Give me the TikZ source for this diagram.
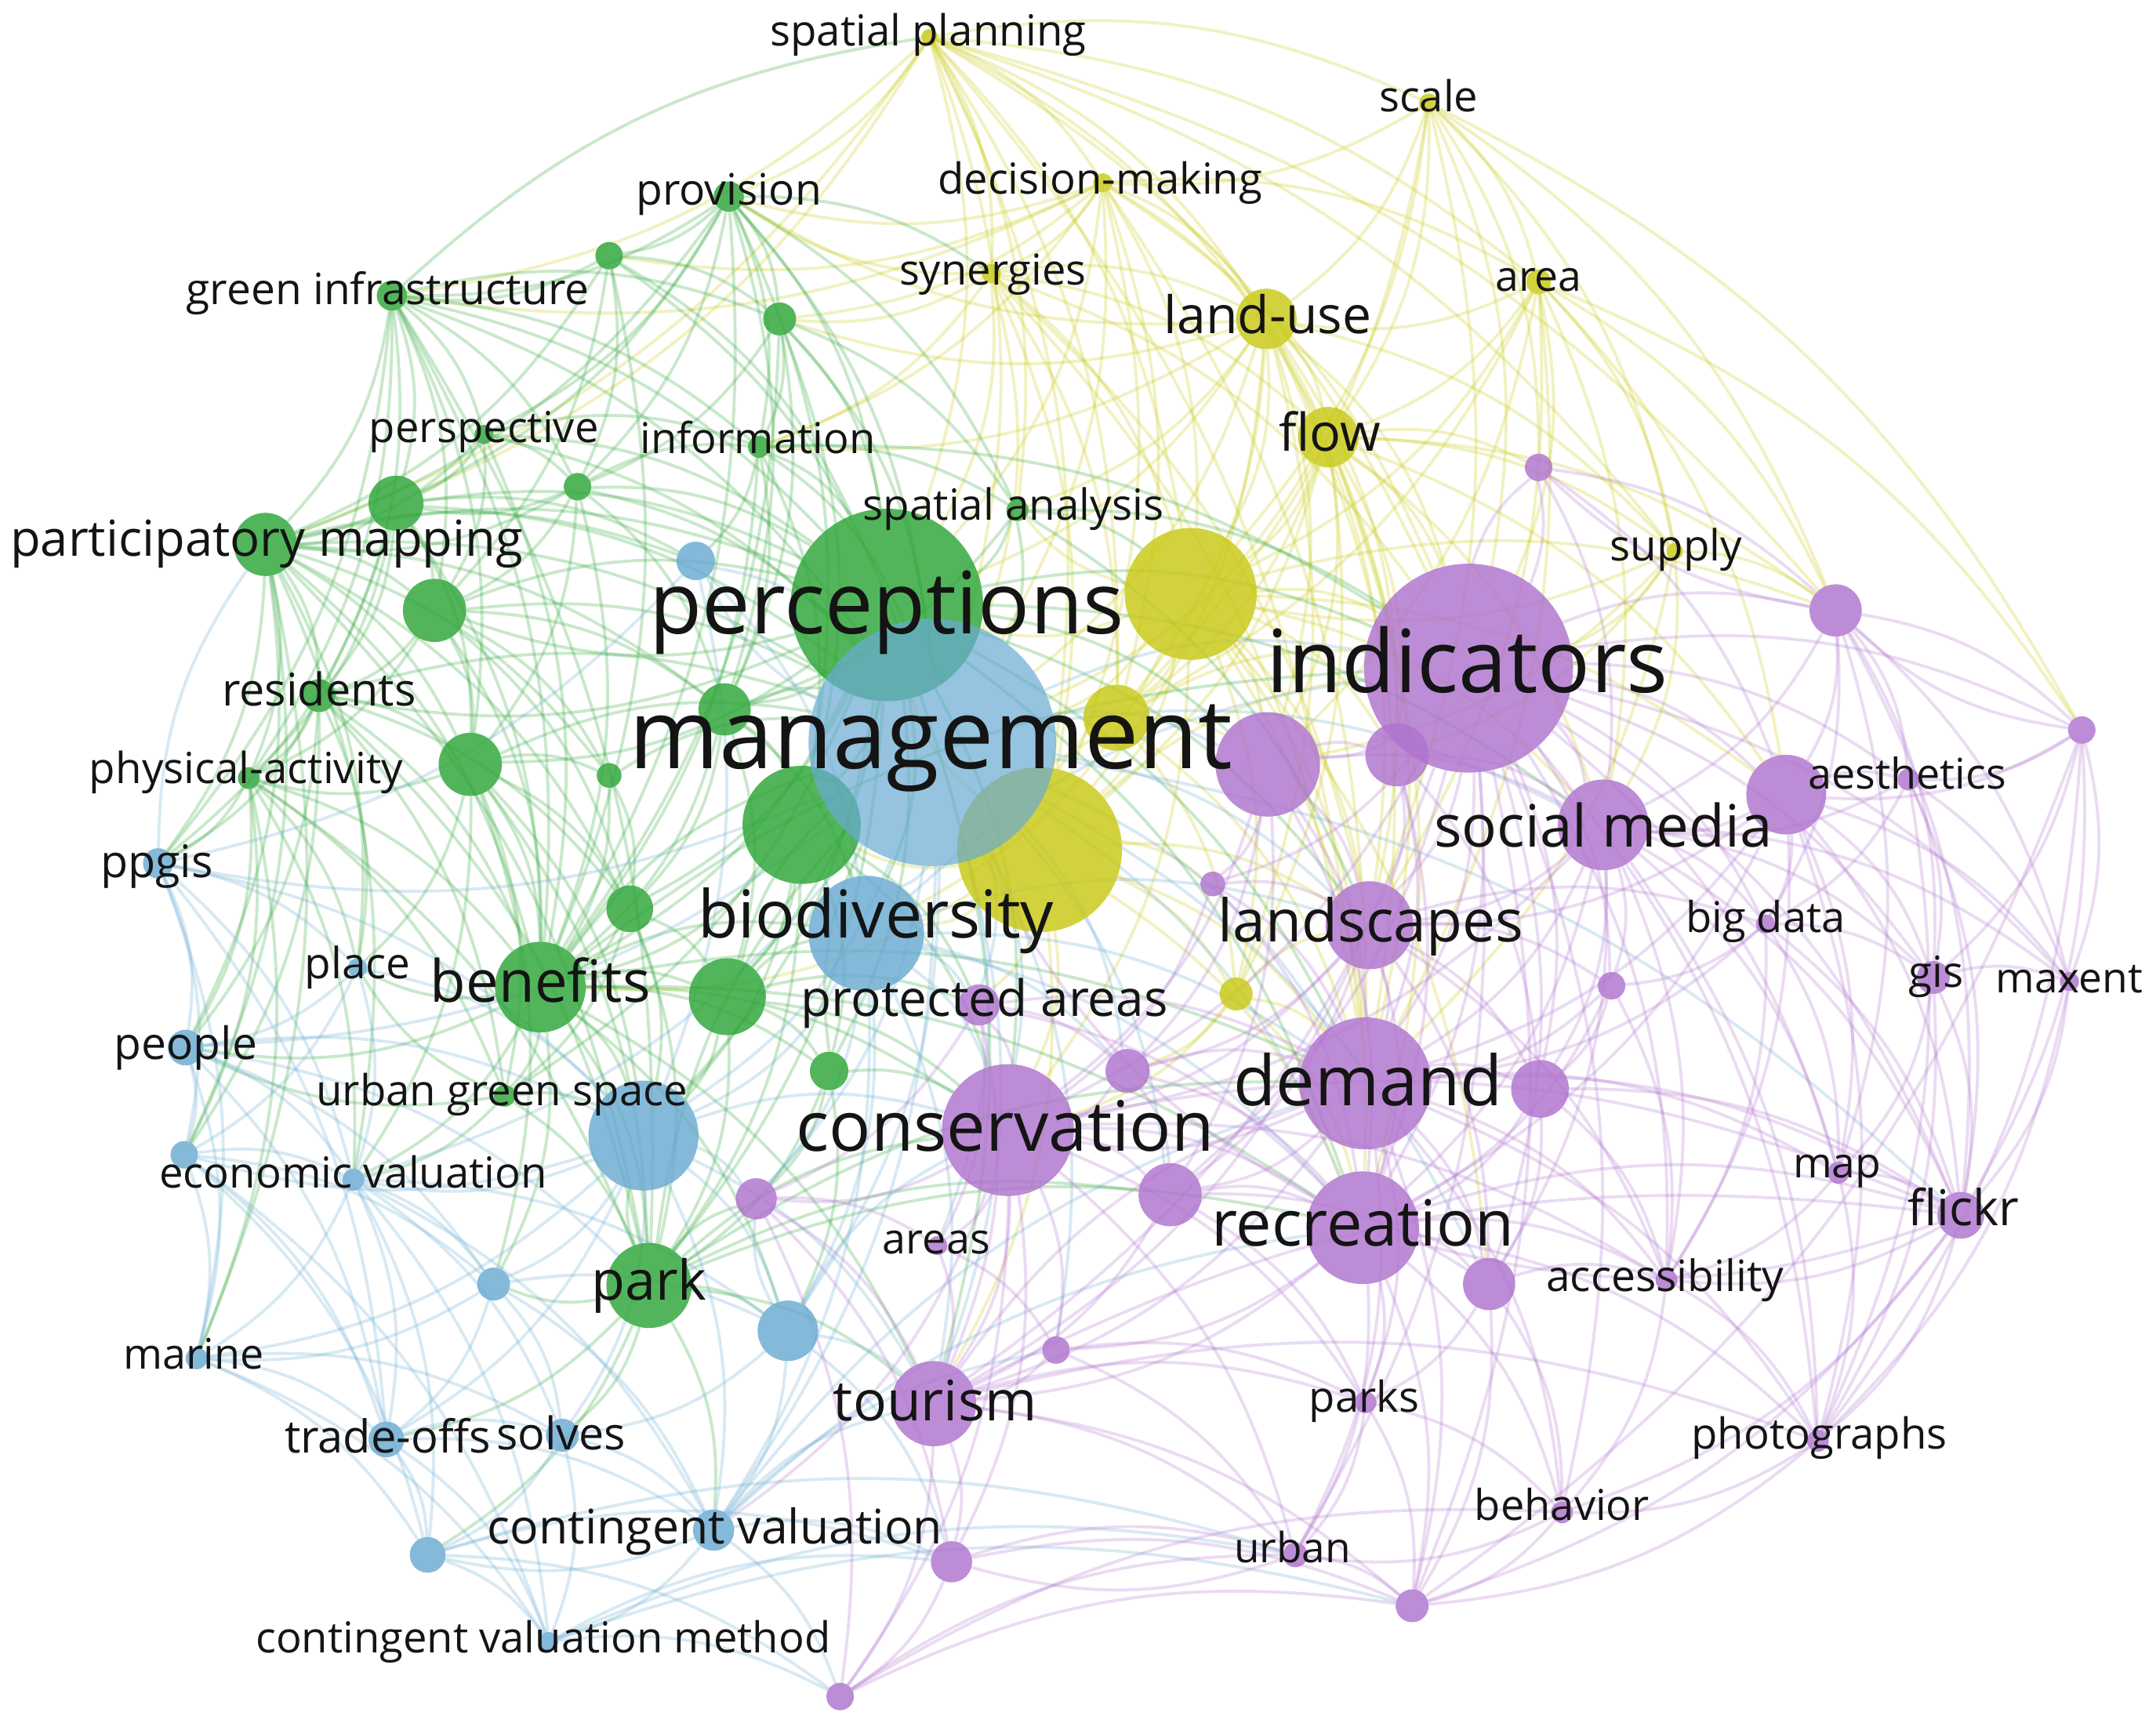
\documentclass[tikz,border=0pt]{standalone}
\usepackage{fontspec}
\setmainfont{Open Sans}
\usepackage{graphicx}
\pgfdeclarelayer{bg}
\pgfsetlayers{bg,main}
\definecolor{cg}{RGB}{45,165,55}
\definecolor{cy}{RGB}{200,200,20}
\definecolor{cb}{RGB}{105,170,210}
\definecolor{cp}{RGB}{175,115,205}
\newlength\pxu
\setlength\pxu{0.02cm}
\newcommand\vn[5]{\node[vn,fill=#4,minimum size={#5*0.04cm}] (#1) at (#2,#3) {};}
\newcommand\vl[4]{\node[vl] (t#1) at (#2) {\resizebox{#3\pxu}{!}{#4\vphantom{hg}}};}
\begin{document}
\begin{tikzpicture}[x=0.02cm,y=-0.02cm,
  vn/.style={circle,inner sep=0pt,outer sep=0pt,draw=none,fill opacity=0.82},
  vl/.style={inner sep=0pt,outer sep=0pt,text=black!92,anchor=center},
  ebase/.style={line width=1.25pt,draw opacity=0.26,bend left=17},
  eg/.style={ebase,draw=cg},
  ey/.style={ebase,draw=cy},
  eb/.style={ebase,draw=cb},
  ep/.style={ebase,draw=cp}]
\useasboundingbox (0,0) rectangle (1568,1258);
% ---------- nodes (circles) ----------
\vn{ybig2}{756}{618}{cy}{60}
\vn{ybig1}{866}{432}{cy}{48}
\vn{g9}{583}{600}{cg}{43}
\vn{percep}{645}{440}{cg}{70}
\vn{ymid}{812}{522}{cy}{24}
\node[vn,fill=cb,fill opacity=0.7,minimum size={90*0.04cm}] (mgmt) at (678,540) {};
\vn{biod}{630}{679}{cb}{42}
\vn{indic}{1068}{486}{cp}{76}
\vn{p1}{922}{556}{cp}{38}
\vn{p2}{1016}{549}{cp}{23}
\vn{conserv}{733}{822}{cp}{48}
\vn{demand}{993}{788}{cp}{48}
\vn{recre}{991}{893}{cp}{41}
\vn{b2}{468}{826}{cb}{40}
\vn{benef}{393}{718}{cg}{33}
\vn{smedia}{1166}{600}{cp}{33}
\vn{land}{996}{673}{cp}{32}
\vn{park}{472}{935}{cg}{31}
\vn{tourism}{679}{1021}{cp}{31}
\vn{p6}{1299}{578}{cp}{29}
\vn{g11}{529}{725}{cg}{28}
\vn{splan}{676}{27}{cy}{6}
\vn{scale}{1039}{75}{cy}{7}
\vn{decis}{802}{133}{cy}{7}
\vn{syner}{721}{199}{cy}{7}
\vn{area}{1119}{205}{cy}{9}
\vn{landuse}{921}{232}{cy}{22}
\vn{flow}{966}{318}{cy}{22}
\vn{supply}{1218}{401}{cy}{6}
\vn{ysmall}{899}{723}{cy}{12}
\vn{prov}{530}{143}{cg}{11}
\vn{g1}{443}{186}{cg}{10}
\vn{ginf}{285}{215}{cg}{11}
\vn{g2}{567}{232}{cg}{12}
\vn{persp}{352}{316}{cg}{7}
\vn{g3}{420}{354}{cg}{10}
\vn{info}{552}{325}{cg}{8}
\vn{span}{740}{371}{cg}{8}
\vn{g4}{288}{366}{cg}{20}
\vn{pmap}{193}{396}{cg}{23}
\vn{g5}{316}{444}{cg}{23}
\vn{resid}{232}{506}{cg}{12}
\vn{g6}{527}{516}{cg}{19}
\vn{g7}{342}{556}{cg}{23}
\vn{phys}{181}{566}{cg}{8}
\vn{g8}{443}{564}{cg}{9}
\vn{g10}{458}{661}{cg}{17}
\vn{g12}{603}{779}{cg}{14}
\vn{ugs}{367}{797}{cg}{8}
\vn{b1}{506}{408}{cb}{14}
\vn{ppgis}{115}{628}{cb}{11}
\vn{place}{260}{704}{cb}{7}
\vn{people}{135}{762}{cb}{13}
\vn{b3}{134}{840}{cb}{10}
\vn{econ}{257}{858}{cb}{8}
\vn{b4}{359}{934}{cb}{12}
\vn{b5}{573}{968}{cb}{22}
\vn{marine}{143}{988}{cb}{8}
\vn{trade}{281}{1047}{cb}{13}
\vn{solves}{409}{1044}{cb}{12}
\vn{cval}{519}{1113}{cb}{15}
\vn{b6}{311}{1131}{cb}{13}
\vn{cvm}{399}{1194}{cb}{7}
\vn{p3}{1335}{444}{cp}{19}
\vn{p4}{1119}{340}{cp}{10}
\vn{p5}{1514}{531}{cp}{10}
\vn{aesth}{1388}{567}{cp}{8}
\vn{p7}{882}{643}{cp}{9}
\vn{bigdata}{1284}{672}{cp}{7}
\vn{p8}{1172}{717}{cp}{10}
\vn{gis}{1406}{711}{cp}{12}
\vn{maxent}{1505}{714}{cp}{7}
\vn{protar}{712}{731}{cp}{15}
\vn{p9}{820}{779}{cp}{16}
\vn{p10}{1120}{792}{cp}{21}
\vn{p11}{851}{869}{cp}{23}
\vn{p12}{550}{872}{cp}{15}
\vn{map}{1337}{853}{cp}{8}
\vn{flickr}{1426}{884}{cp}{17}
\vn{areas}{682}{906}{cp}{7}
\vn{p13}{1083}{934}{cp}{19}
\vn{access}{1212}{931}{cp}{8}
\vn{p14}{768}{982}{cp}{10}
\vn{parks}{993}{1020}{cp}{8}
\vn{photo}{1322}{1048}{cp}{8}
\vn{behav}{1136}{1100}{cp}{8}
\vn{urban}{942}{1131}{cp}{9}
\vn{p15}{692}{1136}{cp}{15}
\vn{p16}{1027}{1168}{cp}{12}
\vn{p17}{611}{1234}{cp}{10}
% ---------- edges ----------
\begin{pgfonlayer}{bg}
\foreach \s/\tl in {
 splan/{decis,syner,landuse,flow,ybig1,ybig2,mgmt,percep,indic,prov,area,scale,ginf,supply,span,ymid,demand,pmap,g4,p3},
 scale/{decis,landuse,area,flow,ybig1,indic,ymid,supply,p4,land,p3,p5},
 decis/{syner,landuse,flow,ybig1,ybig2,mgmt,percep,indic,prov,area,g2,ymid,info,demand,g1,ginf},
 syner/{landuse,flow,ybig1,ybig2,mgmt,percep,indic,ymid,g2,info,demand,land,prov},
 area/{landuse,flow,ybig1,indic,supply,p3,smedia,demand,land,p1,ymid,p6,p5},
 landuse/{flow,ybig1,ybig2,mgmt,percep,indic,ymid,supply,p1,p2,demand,land,span,info,ysmall,g2,prov},
 flow/{ybig1,ybig2,mgmt,indic,ymid,supply,p1,p2,demand,land,recre,ysmall,p4,smedia,p3,p6},
 supply/{indic,ybig1,p3,demand,smedia,p2,p1},
 ybig1/{ybig2,mgmt,percep,indic,ymid,p1,p2,demand,land,recre,conserv,biod,smedia,ysmall,span,p3,p6,p13},
 ybig2/{mgmt,percep,indic,ymid,demand,land,recre,conserv,biod,g9,protar,ysmall,p7,benef,tourism},
 ymid/{mgmt,indic,p1,demand,ysmall},
 ysmall/{land,demand,recre,conserv,p9}}
 {\foreach \t in \tl {\draw[ey] (\s) to (\t);}}
\foreach \s/\tl in {
 prov/{g1,ginf,g2,info,persp,percep,mgmt,g3,g6,pmap,benef,g9,span,syner,g4},
 g1/{ginf,g2,percep,g3,pmap,g5,mgmt,benef},
 ginf/{g2,persp,g3,g4,pmap,g5,resid,g7,percep,mgmt,benef,phys,info,ppgis,park,splan},
 g2/{info,percep,mgmt,g6,g9,benef,g3,span},
 persp/{g3,g4,pmap,percep,mgmt,info,g5,benef},
 g3/{g4,pmap,info,percep,g6,g5,g7,benef,mgmt},
 info/{span,percep,mgmt,g6,g9,benef,b1,indic},
 span/{percep,mgmt,ybig1,indic,g6,land},
 g4/{pmap,g5,percep,mgmt,resid,g7,benef,b1,phys,ppgis},
 pmap/{g5,resid,g7,phys,percep,mgmt,benef,ppgis,g8,g10,b1,g6,park,people,place,b3,econ,marine},
 percep/{g5,g6,g7,g9,g10,benef,g11,mgmt,biod,conserv,indic,park,ugs,g12,b2,resid,recre,demand,p1,land,smedia,tourism},
 g5/{resid,g7,percep,mgmt,benef,g6,g8,g10,phys},
 resid/{g7,phys,benef,mgmt,ppgis,place,park,ugs,g10,people,b3},
 g6/{g9,mgmt,benef,g11,g10,biod},
 g7/{phys,g8,benef,mgmt,g10,park,ugs,b2,place,econ,b4},
 phys/{ppgis,benef,people,place,park,b3,ugs,marine,econ},
 g8/{mgmt,benef,g10},
 g9/{mgmt,biod,benef,g11,conserv,g12,park,b2,protar},
 g10/{benef,g11,park,ugs,b2},
 benef/{g11,ugs,park,mgmt,biod,b2,place,people,econ,b4,conserv,g12,b5,tourism,recre,demand,indic},
 g11/{g12,biod,mgmt,park,b2,conserv,protar},
 g12/{park,mgmt,conserv,b5,p12},
 ugs/{park,b2,econ,place,people},
 park/{b2,b4,b5,solves,cval,trade,tourism,mgmt,conserv,p12,recre,b6,demand,p11}}
 {\foreach \t in \tl {\draw[eg] (\s) to (\t);}}
\foreach \s/\tl in {
 mgmt/{b1,biod,b2,indic,conserv,demand,recre,land,p1,protar,tourism,cval,b5,ppgis,people,econ,p12,smedia,p9,p11,areas,p14,p13,flickr},
 b1/{biod,mgmt,ppgis,b2},
 ppgis/{people,place,b3,econ,marine,b2,trade,pmap},
 biod/{b2,conserv,protar,indic,demand,land,recre,p9,p12,tourism,cval,b5},
 place/{people,b3,econ,b2},
 people/{b3,econ,marine,b2,trade,b4,park},
 b2/{b3,econ,b4,b5,marine,trade,solves,cval,conserv,tourism,p12},
 b3/{econ,marine,trade,b6,b4,cvm},
 econ/{b4,marine,trade,solves,cval,b6,cvm,b5},
 b4/{solves,trade,cval,b5,marine},
 b5/{cval,solves,tourism,p12,p15,conserv},
 marine/{trade,b6,cvm,solves},
 trade/{solves,b6,cval,cvm},
 solves/{cval,b6,cvm},
 cval/{b6,cvm,p15,p17,tourism,p14,recre,demand},
 b6/{cvm,p17,p15,urban},
 cvm/{p17,p15,p16,urban}}
 {\foreach \t in \tl {\draw[eb] (\s) to (\t);}}
\foreach \s/\tl in {
 indic/{p1,p2,p3,p4,p5,p6,smedia,land,demand,recre,conserv,aesth,bigdata,gis,maxent,flickr,p10,p13,access,map,p8,p7,tourism,p11,photo,p16,behav,urban},
 p1/{p2,land,demand,recre,conserv,smedia,p7,p9,p11},
 p2/{land,demand,smedia,recre,p10},
 p3/{p4,p5,p6,aesth,smedia,gis,maxent,flickr,bigdata,map},
 p4/{indic,p3,smedia,p6},
 p5/{aesth,gis,maxent,flickr,p6,photo,p3,p16},
 p6/{aesth,smedia,bigdata,gis,maxent,flickr,map,access,demand,recre,photo,land},
 aesth/{smedia,gis,maxent,flickr,bigdata,photo},
 smedia/{land,bigdata,demand,recre,gis,flickr,p8,p10,access,map,photo,maxent,conserv,p13},
 p7/{land,demand,conserv,recre},
 land/{demand,recre,conserv,p8,p9,p10,p11,bigdata,access,tourism,p13},
 bigdata/{gis,flickr,map,p8,access,demand},
 p8/{demand,recre,p10,access},
 gis/{maxent,flickr,map,photo},
 maxent/{flickr,photo},
 protar/{conserv,p9,areas,tourism,p12,demand,recre},
 p9/{conserv,demand,recre,p11},
 demand/{p10,conserv,recre,p11,p13,access,parks,flickr,map,tourism,behav,urban,p16,photo},
 p10/{recre,p13,access,flickr},
 conserv/{recre,p11,p12,areas,tourism,p14,p15,parks,urban,p17,cval,flickr,access},
 p11/{recre,p13,tourism,parks},
 p12/{areas,tourism,p15,p17},
 map/{flickr,access,photo},
 flickr/{photo,access,behav,recre,p16},
 recre/{p13,access,parks,tourism,behav,urban,p16,photo,p14,flickr,mgmt},
 areas/{tourism,p14},
 p13/{access,parks,behav,p16},
 access/{photo,behav},
 p14/{tourism,parks,urban},
 tourism/{p15,parks,urban,p16,p17,demand,flickr,photo},
 parks/{urban,behav,p16},
 photo/{behav,p16},
 behav/{urban,p16},
 urban/{p16,p15},
 p15/{p17,p16,urban},
 p17/{p16,urban,behav}}
 {\foreach \t in \tl {\draw[ep] (\s) to (\t);}}
\end{pgfonlayer}
% ---------- labels ----------
\vl{splan}{675,25}{230}{spatial planning}
\vl{scale}{1039,73}{72}{scale}
\vl{decis}{800,133}{236}{decision-making}
\vl{prov}{530,141}{135}{provision}
\vl{syner}{722,199}{136}{synergies}
\vl{area}{1119,204}{63}{area}
\vl{ginf}{282,213}{293}{green infrastructure}
\vl{landuse}{922,233}{151}{land-use}
\vl{persp}{352,314}{167}{perspective}
\vl{info}{551,322}{171}{information}
\vl{flow}{967,318}{74}{flow}
\vl{span}{737,370}{219}{spatial analysis}
\vl{pmap}{194,395}{373}{participatory mapping}
\vl{supply}{1219,400}{96}{supply}
\vl{percep}{645,445}{345}{perceptions}
\vl{indic}{1067,487}{292}{indicators}
\vl{resid}{232,505}{141}{residents}
\vl{mgmt}{677,541}{439}{management}
\vl{phys}{179,562}{228}{physical-activity}
\vl{aesth}{1387,566}{144}{aesthetics}
\vl{smedia}{1166,605}{246}{social media}
\vl{ppgis}{114,630}{82}{ppgis}
\vl{biod}{637,670}{259}{biodiversity}
\vl{land}{997,674}{222}{landscapes}
\vl{bigdata}{1284,670}{116}{big data}
\vl{place}{260,704}{77}{place}
\vl{benef}{393,718}{160}{benefits}
\vl{gis}{1408,710}{40}{gis}
\vl{maxent}{1505,714}{107}{maxent}
\vl{protar}{716,730}{267}{protected areas}
\vl{people}{135,762}{104}{people}
\vl{demand}{995,791}{196}{demand}
\vl{ugs}{365,796}{270}{urban green space}
\vl{conserv}{731,824}{304}{conservation}
\vl{econ}{257,856}{282}{economic valuation}
\vl{map}{1336,849}{64}{map}
\vl{recre}{991,894}{220}{recreation}
\vl{flickr}{1428,882}{81}{flickr}
\vl{areas}{681,904}{78}{areas}
\vl{access}{1211,931}{173}{accessibility}
\vl{park}{472,935}{84}{park}
\vl{marine}{141,988}{102}{marine}
\vl{tourism}{680,1023}{148}{tourism}
\vl{parks}{992,1019}{80}{parks}
\vl{trade}{282,1048}{150}{trade-offs}
\vl{solves}{408,1046}{94}{solves}
\vl{photo}{1323,1046}{186}{photographs}
\vl{behav}{1136,1098}{127}{behavior}
\vl{cval}{520,1114}{331}{contingent valuation}
\vl{urban}{940,1129}{85}{urban}
\vl{cvm}{395,1194}{418}{contingent valuation method}
\end{tikzpicture}
\end{document}
